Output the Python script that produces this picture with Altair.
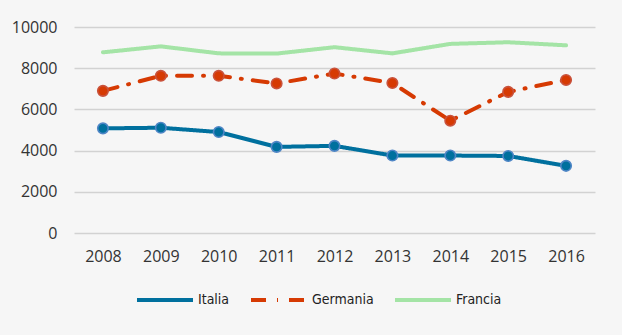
import altair as alt
import pandas as pd

years = ["2008", "2009", "2010", "2011", "2012", "2013", "2014", "2015", "2016"]
italia = [5080, 5110, 4900, 4180, 4230, 3760, 3760, 3740, 3260]
germania = [6900, 7630, 7630, 7260, 7740, 7280, 5450, 6850, 7430]
francia = [8770, 9060, 8720, 8710, 9020, 8720, 9180, 9260, 9110]

series = ["Italia", "Germania", "Francia"]
line_colors = ["#00709e", "#d63a03", "#a4e4a6"]
marker_stroke = ["#4f86c6", "#c9523c", "#a4e4a6"]

rows = []
for name, vals in zip(series, [italia, germania, francia]):
    for y, v in zip(years, vals):
        rows.append({"anno": y, "valore": v, "paese": name})
df = pd.DataFrame(rows)

x = alt.X("anno:O", scale=alt.Scale(type="point", padding=0.5),
          axis=alt.Axis(title=None, labelAngle=0, domain=False, ticks=False,
                        grid=False, labelPadding=15))
y = alt.Y("valore:Q", scale=alt.Scale(domain=[0, 10000], nice=False),
          axis=alt.Axis(title=None, values=[0, 2000, 4000, 6000, 8000, 10000],
                        format="d", domain=False, ticks=False, labelPadding=17,
                        gridColor="#d2d2d2", gridWidth=1.5))

lines = alt.Chart(df).mark_line(strokeWidth=4, strokeCap="round").encode(
    x=x, y=y,
    color=alt.Color("paese:N", sort=series,
                    scale=alt.Scale(domain=series, range=line_colors),
                    legend=alt.Legend(title=None, orient="none", direction="horizontal",
                                      legendX=61, legendY=243, symbolType="stroke",
                                      symbolSize=3136, symbolStrokeWidth=4,
                                      labelFont="DejaVu Sans Condensed", labelFontSize=14,
                                      labelColor="#222222", labelOffset=3,
                                      columnPadding=13)),
    strokeDash=alt.StrokeDash("paese:N", sort=series,
                              scale=alt.Scale(domain=series,
                                              range=[[1, 0], [15, 11, 1, 11], [1, 0]])),
    order=alt.Order("anno:O"),
)

points = alt.Chart(df).transform_filter(
    alt.FieldOneOfPredicate(field="paese", oneOf=["Italia", "Germania"])
).mark_point(filled=True, size=110, strokeWidth=1.6, opacity=1).encode(
    x=x, y=y,
    fill=alt.Fill("paese:N", scale=alt.Scale(domain=series, range=line_colors), legend=None),
    stroke=alt.Stroke("paese:N", scale=alt.Scale(domain=series, range=marker_stroke), legend=None),
)

chart = alt.layer(lines, points).resolve_scale(fill="independent", stroke="independent").properties(
    width=521, height=206,
    background="#f6f6f6",
    autosize=alt.AutoSizeParams(type="none"),
    padding={"left": 74, "top": 27, "right": 27, "bottom": 102},
).configure_view(stroke=None).configure_axis(
    labelFont="Open Sans", labelFontSize=16, labelColor="#333333"
)

chart.save("out.html", embed_options={"renderer": "svg", "actions": False})
